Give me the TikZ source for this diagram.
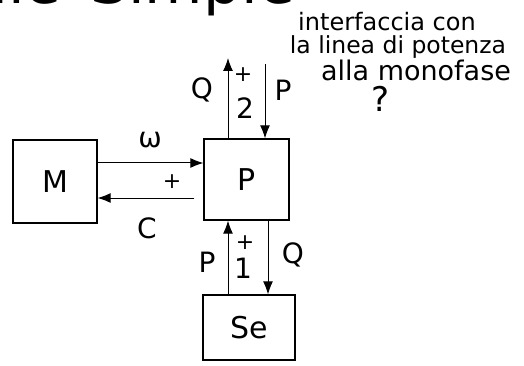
\documentclass[tikz,border=0pt]{standalone}
\usepackage{fontspec}
\setmainfont{DejaVu Sans}
\usetikzlibrary{arrows.meta}
\begin{document}
\begin{tikzpicture}[x=1pt,y=-1pt,
  box/.style={draw,line width=1.3pt,inner sep=0pt,font=\fontsize{30}{32}\selectfont},
  arr/.style={line width=1pt,-{Latex[length=13pt,width=10pt]}},
  lbl/.style={font=\fontsize{28}{30}\selectfont,inner sep=0pt},
  sml/.style={font=\fontsize{22}{24}\selectfont,inner sep=0pt},
  note/.style={font=\fontsize{24}{26}\selectfont,inner sep=0pt}]
\useasboundingbox (0,0) rectangle (524,366);
\clip (0,0) rectangle (524,366);
% title, cut by the top edge
\node[font=\fontsize{60}{62}\selectfont,anchor=base east,inner sep=0pt] (title1) at (62,4) {deale};
\node[font=\fontsize{60}{62}\selectfont,anchor=base west,inner sep=0pt] (title2) at (90,4) {Simple};
% note
\node[note] (n1) at (387,22) {interfaccia con};
\node[note,font=\fontsize{23.5}{24}\selectfont] (n2) at (398,47) {la linea di potenza};
\node[note,font=\fontsize{27}{28}\selectfont] (n3) at (416,70) {alla monofase};
\node[font=\fontsize{20}{22}\selectfont,inner sep=0pt] (qm) at (381,99) {\scalebox{1.7}{?}};
% boxes
\node[box,minimum width=84pt,minimum height=83pt] (M) at (55,181.5) {M};
\node[box,minimum width=85pt,minimum height=81pt] (P) at (246.5,179.5) {P};
\node[box,minimum width=92pt,minimum height=65pt] (Se) at (249,327.5) {Se};
% M <-> P
\draw[arr] ([yshift=18.5pt]M.east) -- ([yshift=16.5pt]P.west);
\draw[arr] ([xshift=-9pt,yshift=-18.5pt]P.west) -- ([yshift=-16.5pt]M.east);
% top port 2
\coordinate (qt) at (228,58);
\coordinate (pt) at (265,64);
\draw[arr] (P.north -| qt) -- (qt);
\draw[arr] (pt) -- (P.north -| pt);
% bottom port 1
\coordinate (qb) at (268,0);
\draw[arr] (Se.north -| qt) -- (P.south -| qt);
\draw[arr] (P.south -| qb) -- (Se.north -| qb);
% labels
\node[lbl] (w) at (150,140) {ω};
\node[sml] (pl0) at (172,182) {+};
\node[lbl] (c) at (147,228) {C};
\node[lbl] (q2) at (202,90) {Q};
\node[sml] (pl2) at (243,75) {+};
\node[lbl] (d2) at (245,108) {2};
\node[lbl] (p2) at (283,90) {P};
\node[lbl] (p1) at (207,262) {P};
\node[sml] (pl1) at (245,243) {+};
\node[lbl] (d1) at (243,268) {1};
\node[lbl] (q1) at (293,255) {Q};
\end{tikzpicture}
\end{document}
